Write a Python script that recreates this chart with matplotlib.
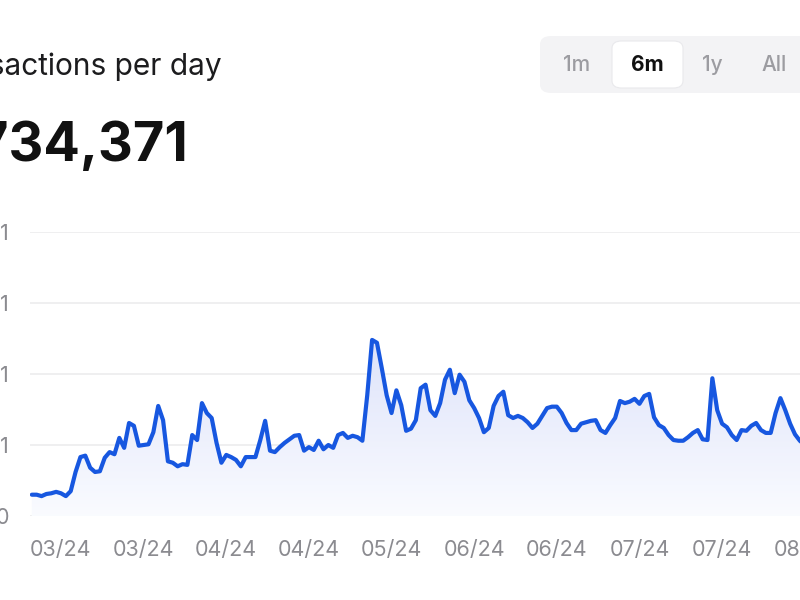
import numpy as np
import pandas as pd
import matplotlib
matplotlib.use("Agg")
from matplotlib import pyplot as plt
from matplotlib import dates as mdates
from matplotlib.patches import FancyBboxPatch

plt.rcParams["font.family"] = ["Inter", "DejaVu Sans"]

# data (one value per day, grid units)
start_date = "2024-03-03"
daily_values = [
    0.30, 0.30, 0.28, 0.31, 0.32, 0.34, 0.32, 0.28, 0.35, 0.62,
    0.83, 0.85, 0.68, 0.62, 0.63, 0.82, 0.90, 0.87, 1.10, 0.96,
    1.31, 1.27, 0.99, 1.00, 1.01, 1.18, 1.55, 1.35, 0.77, 0.75,
    0.70, 0.73, 0.72, 1.14, 1.07, 1.59, 1.45, 1.38, 1.03, 0.75,
    0.86, 0.83, 0.79, 0.70, 0.83, 0.83, 0.83, 1.07, 1.34, 0.92,
    0.90, 0.97, 1.03, 1.08, 1.13, 1.14, 0.92, 0.97, 0.93, 1.06,
    0.94, 1.00, 0.96, 1.14, 1.17, 1.10, 1.13, 1.11, 1.06, 1.70,
    2.48, 2.44, 2.08, 1.70, 1.45, 1.77, 1.56, 1.20, 1.23, 1.35,
    1.80, 1.85, 1.49, 1.41, 1.59, 1.92, 2.06, 1.73, 1.99, 1.89,
    1.63, 1.52, 1.38, 1.18, 1.24, 1.55, 1.69, 1.75, 1.42, 1.38,
    1.41, 1.38, 1.32, 1.24, 1.30, 1.41, 1.52, 1.54, 1.54, 1.45,
    1.31, 1.21, 1.21, 1.30, 1.32, 1.34, 1.35, 1.21, 1.17, 1.28,
    1.38, 1.62, 1.59, 1.61, 1.65, 1.58, 1.69, 1.72, 1.39, 1.28,
    1.24, 1.14, 1.07, 1.06, 1.06, 1.11, 1.17, 1.21, 1.08, 1.07,
    1.94, 1.49, 1.30, 1.25, 1.14, 1.07, 1.21, 1.20, 1.27, 1.31,
    1.21, 1.17, 1.17, 1.45, 1.66, 1.49, 1.30, 1.15, 1.06, 1.00,
    0.99,
]
y_ticks = [0, 1, 2, 3, 4]
y_labels = ["0", "1", "1", "1", "1"]
first_tick = "2024-03-09"
tick_step_days = 17

title = "Transactions per day"
big_number = "734,371"
ranges = ["1m", "6m", "1y", "All"]
selected_range = "6m"

LINE = "#1757e0"
GRID = "#ececee"
LABEL = "#8b8b90"

dates = pd.date_range(start_date, periods=len(daily_values), freq="D")
values = np.array(daily_values)

fig = plt.figure(figsize=(8, 6), dpi=100)
W, H = 800.0, 600.0

# plot area: left edge at 30px, zero line at 516px, top grid at 232px
ax = fig.add_axes([30 / W, (H - 516) / H, 800 / W, (516 - 232) / H])
x0 = pd.Timestamp(start_date)
ax.set_xlim(x0 - pd.Timedelta(hours=9), x0 + pd.Timedelta(days=164.2))
ax.set_ylim(0, 4)

for s in ax.spines.values():
    s.set_visible(False)
ax.set_yticks(y_ticks)
ax.set_yticklabels(y_labels)
ax.grid(axis="y", color=GRID, linewidth=1.2)
ax.set_axisbelow(True)

ticks = pd.date_range(first_tick, periods=10, freq=f"{tick_step_days}D")
ax.set_xticks(ticks)
ax.xaxis.set_major_formatter(mdates.DateFormatter("%m/%y"))
ax.tick_params(axis="x", length=0, pad=17, labelsize=15.5, labelcolor=LABEL)
ax.tick_params(axis="y", length=0, pad=15, labelsize=15.5, labelcolor=LABEL)

# gradient fill under the line
poly = ax.fill_between(dates, values, 0, color="none")
clip = poly.get_paths()[0]
grad = np.zeros((256, 1, 4))
top = np.array([0.87, 0.89, 0.98])
bottom = np.array([0.98, 0.985, 1.0])
t = np.linspace(0, 1, 256)[:, None]
grad[:, 0, :3] = top * (1 - t) + bottom * t
grad[:, 0, 3] = 1.0
xl = ax.get_xlim()
img = ax.imshow(grad, extent=[xl[0], xl[1], 0, values.max()], aspect="auto",
                origin="upper", zorder=1)
img.set_clip_path(clip, transform=ax.transData)
ax.set_xlim(xl)
ax.set_ylim(0, 4)

ax.plot(dates, values, color=LINE, linewidth=3.0, solid_joinstyle="round",
        solid_capstyle="round", zorder=3)

# header texts
fig.text(222 / W, 1 - 75 / H, title, ha="right", va="baseline",
         fontsize=21.5, color="#1c1c1e")
fig.text(188 / W, 1 - 161 / H, big_number, ha="right", va="baseline",
         fontsize=39, fontweight="bold", color="#111111")

# range selector
bg = FancyBboxPatch((540 / W, 1 - 93 / H), 300 / W, 57 / H,
                    boxstyle="round,pad=0,rounding_size=0.014",
                    transform=fig.transFigure, facecolor="#f3f3f5",
                    edgecolor="none")
fig.patches.append(bg)
pill = FancyBboxPatch((612 / W, 1 - 88 / H), 71 / W, 47 / H,
                      boxstyle="round,pad=0,rounding_size=0.012",
                      transform=fig.transFigure, facecolor="white",
                      edgecolor="#e9e9ec", linewidth=0.8)
fig.patches.append(pill)
centers = [577, 647, 712, 774]
for lab, cx in zip(ranges, centers):
    sel = lab == selected_range
    fig.text(cx / W, 1 - 65 / H, lab, ha="center", va="center", fontsize=15,
             fontweight="bold" if sel else "medium",
             color="#111111" if sel else "#9c9ca1")

fig.savefig("out.png", dpi=100)
